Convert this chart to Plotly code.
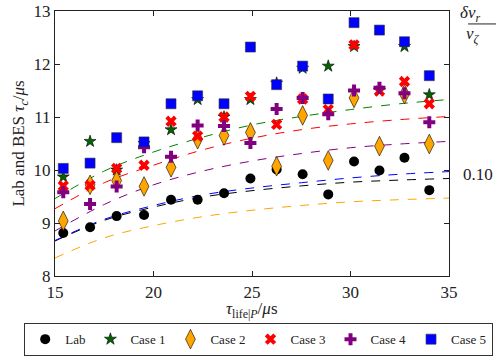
import plotly.graph_objects as go

# ---- data ----
tau_life = [15.42, 16.78, 18.13, 19.52, 20.89, 22.24, 23.58, 24.92, 26.25, 27.57,
            28.87, 30.18, 31.47, 32.74, 34.0]
lab = [8.81, 8.92, 9.13, 9.15, 9.44, 9.44, 9.56, 9.84, 10.01, 9.92,
       9.54, 10.16, 9.99, 10.23, 9.62]
case1 = [9.87, 10.54, 10.0, 10.5, 10.76, 11.33, 11.0, 11.33, 11.64, 11.92,
         11.96, 12.33, 11.5, 12.33, 11.42]
case2 = [9.04, 9.72, 9.80, 9.69, 10.05, 10.58, 10.65, 10.71, 10.07, 11.03,
         10.18, 11.36, 10.45, 11.43, 10.49]
case3 = [9.70, 9.71, 10.03, 10.09, 10.92, 10.64, 11.00, 11.39, 10.86, 11.34,
         11.14, 12.36, 11.49, 11.67, 11.25]
case4 = [9.58, 9.36, 9.69, 10.43, 10.25, 10.84, 10.83, 10.51, 11.15, 11.36,
         11.05, 11.50, 11.55, 11.45, 10.90]
case5 = [10.03, 10.13, 10.61, 10.53, 11.25, 11.40, 11.25, 12.32, 11.61, 11.96,
         11.34, 12.78, 12.64, 12.42, 11.78]

# dashed model curves
curve_x = [15, 17.5, 20, 22.5, 25, 27.5, 30, 32.5, 35]
curve_lab = [8.66, 9.05, 9.30, 9.49, 9.61, 9.70, 9.77, 9.81, 9.84]
curve_c1 = [9.46, 9.98, 10.34, 10.62, 10.85, 11.01, 11.14, 11.25, 11.33]
curve_c2 = [8.34, 8.72, 8.95, 9.12, 9.24, 9.33, 9.40, 9.44, 9.47]
curve_c3 = [9.27, 9.76, 10.09, 10.38, 10.60, 10.76, 10.87, 10.95, 11.01]
curve_c4 = [8.85, 9.35, 9.72, 9.98, 10.17, 10.31, 10.42, 10.49, 10.54]
curve_c5 = [8.67, 9.07, 9.33, 9.53, 9.66, 9.76, 9.85, 9.92, 9.97]

x_ticks = [15, 20, 25, 30, 35]
y_ticks = [8, 9, 10, 11, 12, 13]

FONT = "Liberation Serif"
TXT = "#222222"

W, H = 498, 356
ML, MT, MB = 55, 11, 79
PLOT_RIGHT = 449          # right edge of the axes box in pixels
GW = W - ML               # plotting width with zero right margin
GH = H - MT - MB

def px_x(p):
    return (p - ML) / GW

def px_y(p):
    return 1 - (p - MT) / GH

fig = go.Figure()

curves = [
    (curve_lab, "black"), (curve_c5, "blue"), (curve_c1, "green"),
    (curve_c3, "red"), (curve_c4, "purple"), (curve_c2, "orange"),
]
for ys, col in curves:
    fig.add_trace(go.Scatter(
        x=curve_x, y=ys, mode="lines",
        line=dict(color=col, width=1, dash="dash", shape="spline"),
        showlegend=False, hoverinfo="skip"))

series = [
    ("Lab", lab, dict(symbol="circle", size=10, color="black", line=dict(width=0))),
    ("Case 1", case1, dict(symbol="star", size=9, color="darkgreen", line=dict(width=0.6, color="black"))),
    ("Case 2", case2, dict(symbol="diamond-tall", size=14, color="orange", line=dict(width=0.6, color="black"))),
    ("Case 3", case3, dict(symbol="x", size=10, color="red", line=dict(width=0))),
    ("Case 4", case4, dict(symbol="cross", size=10, color="purple", line=dict(width=0))),
    ("Case 5", case5, dict(symbol="square", size=10, color="blue", line=dict(width=0.6, color="#333333"))),
]
for name, ys, mk in series:
    fig.add_trace(go.Scatter(x=tau_life, y=ys, mode="markers", name=name, marker=mk))

axis_common = dict(
    showline=True, linecolor="#222222", linewidth=1.2, mirror="ticks",
    ticks="inside", ticklen=5, tickcolor="#222222", showgrid=False, zeroline=False,
    automargin=False,
    tickfont=dict(family=FONT, size=17, color=TXT),
)

fig.update_layout(
    width=W, height=H,
    margin=dict(l=ML, r=0, t=MT, b=MB),
    plot_bgcolor="white", paper_bgcolor="white",
    font=dict(family=FONT, size=14, color=TXT),
    xaxis=dict(range=[15, 35], tickvals=x_ticks, domain=[0, px_x(PLOT_RIGHT)],
               **axis_common),
    yaxis=dict(range=[8, 13], tickvals=y_ticks,
               title=dict(text="Lab and BES <i>τ</i><sub><i>c</i></sub>/<i>μ</i>s",
                          font=dict(family=FONT, size=17), standoff=4),
               **axis_common),
    legend=dict(orientation="h", x=px_x(24), xanchor="left",
                y=px_y(324), yanchor="top",
                bordercolor="#333333", borderwidth=1.2,
                font=dict(family=FONT, size=13, color=TXT),
                itemwidth=30, tracegroupgap=0, bgcolor="white"),
    showlegend=True,
)

# x-axis title placed as in the reference
fig.add_annotation(xref="paper", yref="paper", x=px_x(252), y=px_y(311), yanchor="middle",
                   text="<i>τ</i><sub>life|<i>P</i></sub>/<i>μ</i>s", showarrow=False,
                   font=dict(family=FONT, size=17, color=TXT))

# right-side twin-axis style annotations
fx = px_x(482)
fig.add_annotation(xref="paper", yref="paper", x=fx, y=px_y(14), yanchor="middle",
                   text="<i>δv<sub>r</sub></i>", showarrow=False,
                   font=dict(family=FONT, size=17, color=TXT))
fig.add_annotation(xref="paper", yref="paper", x=fx, y=px_y(35), yanchor="middle",
                   text="<i>v<sub>ζ</sub></i>", showarrow=False,
                   font=dict(family=FONT, size=17, color=TXT))
fig.add_shape(type="line", xref="paper", yref="paper", x0=px_x(468), x1=px_x(496),
              y0=px_y(24), y1=px_y(24), line=dict(color=TXT, width=1))
fig.add_annotation(xref="paper", yref="y", x=px_x(461), xanchor="left", y=9.92,
                   text="0.10", showarrow=False,
                   font=dict(family=FONT, size=17, color=TXT))

fig.write_html("out.html", config={"displayModeBar": False},
               post_script="document.body.style.margin='0px';")
